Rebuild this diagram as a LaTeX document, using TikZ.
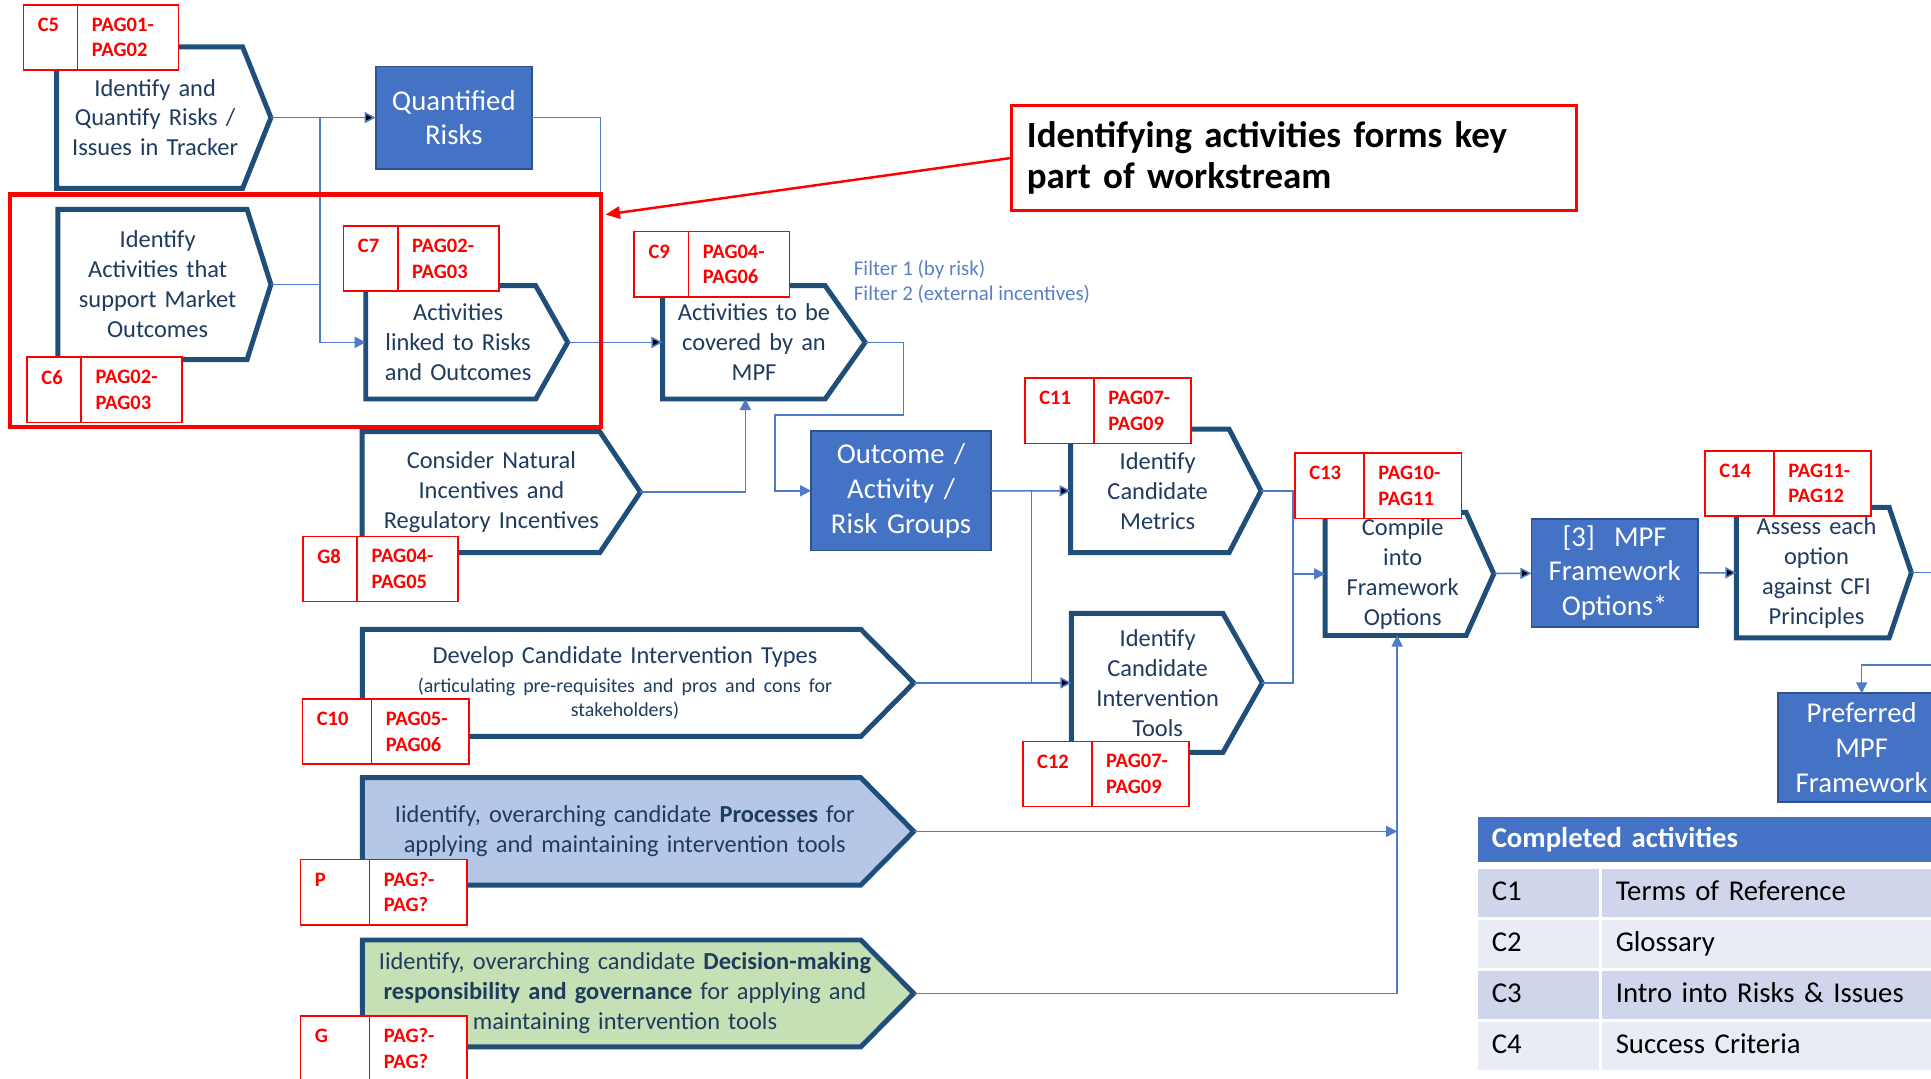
\documentclass[tikz,border=0pt]{standalone}
\usepackage{fontspec}
\setmainfont{Carlito}
\usepackage{xcolor}
\usepackage{tikz}
\usetikzlibrary{positioning,%
  fit,%
  calc,%
  arrows.meta,%
  backgrounds%
}

\definecolor{chevblue}{HTML}{1F4E79}
\definecolor{chevtext}{HTML}{1F3B5E}
\definecolor{boxblue}{HTML}{4472C4}
\definecolor{boxedge}{HTML}{2F528F}
\definecolor{linkblue}{HTML}{4F7AC7}
\definecolor{filterblue}{HTML}{5A7FC6}
\definecolor{tagred}{HTML}{FF0000}
\definecolor{procfill}{HTML}{B4C7E7}
\definecolor{govfill}{HTML}{C5E0B4}
\definecolor{rowdark}{HTML}{CFD5EA}
\definecolor{rowlight}{HTML}{E9EBF5}

\begin{document}
\begin{tikzpicture}
                    [x=0.6pt, y=-0.6pt,
                    boxsize/.style 2 args={minimum width=#1*0.6pt,
                        minimum height=#2*0.6pt},
                    chev/.style 2 args={inner sep=0pt, outer sep=0pt,
                        align=center, text=chevtext, text width=#1,
                        execute at begin node={\advance\rightskip by #2},
                        font=\fontsize{11.9}{14.6}\selectfont},
                    chevline/.style={draw=chevblue, line width=2.4pt,
                        line join=miter},
                    bluebox/.style={inner sep=0pt, outer sep=0pt,
                        align=center, text width=70pt, fill=boxblue,
                        draw=boxedge, line width=.9pt, text=white,
                        font=\fontsize{14}{17}\selectfont},
                    tagid/.style={draw=tagred, fill=white, line width=.8pt,
                        text=tagred, font=\bfseries\fontsize{10}{12.4}\selectfont,
                        align=left, text width=#1, inner xsep=7pt,
                        inner ysep=0pt, outer sep=0pt,
                        minimum height=31.8pt, anchor=north west},
                    tagpg/.style={tagid=#1, anchor=west},
                    flow/.style={draw=linkblue, line width=.75pt},
                    hilite/.style={draw=tagred, line width=2.1pt,
                        inner sep=0pt},
                    keynote/.style={draw=tagred, fill=white, line width=1.4pt,
                        align=left, text width=260pt, inner xsep=7.6pt,
                        minimum height=51.3pt, anchor=north west,
                        font=\bfseries\fontsize{18}{20.2}\selectfont},
                    filtertext/.style={align=left, inner sep=0pt,
                        text=filterblue, font=\fontsize{10.2}{12}\selectfont},
                    tabhead/.style={fill=boxblue, text=white, align=left,
                        text width=226.8pt, inner xsep=6.6pt,
                        minimum height=22.2pt, anchor=north west,
                        font=\bfseries\fontsize{14}{17}\selectfont},
                    keycell/.style={align=left, text width=#1,
                        inner xsep=6.6pt, minimum height=23.2pt,
                        text height=9.6pt, text depth=2.6pt,
                        font=\fontsize{14}{17}\selectfont},
                    >={Triangle[length=5.4pt, width=5.4pt]}]

                    \useasboundingbox (0,0) rectangle (1568,876);

                    % steps
                    \node[chev={92pt}{8.4pt}, boxsize={174}{115}] (qa) at (133,95.5)
                        {Identify and\\Quantify Risks /\\Issues in Tracker};
                    \node[chev={92pt}{6.6pt}, boxsize={173}{122}] (ia) at (133.5,231)
                        {Identify\\Activities that\\support Market\\Outcomes};
                    \node[chev={90pt}{8.4pt}, boxsize={164}{92}] (al) at (379,278)
                        {Activities\\linked to Risks\\and Outcomes};
                    \node[chev={90pt}{9.6pt}, boxsize={164.5}{92}] (ad) at (620.25,278)
                        {Activities to be\\covered by an\\MPF};
                    \node[chev={128pt}{9.6pt}, boxsize={226}{98.3}] (ni) at (407,399.65)
                        {Consider Natural\\Incentives and\\Regulatory Incentives};
                    \node[chev={85pt}{8pt}, boxsize={154.6}{100.4}] (cm) at (946.7,398.6)
                        {Identify\\Candidate\\Metrics};
                    \node[chev={85pt}{9pt}, boxsize={155}{113}] (it) at (947.5,554.5)
                        {Identify\\Candidate\\Intervention\\Tools};
                    \node[chev={76pt}{6.6pt}, boxsize={137}{100}] (co) at (1144.5,466)
                        {Compile\\into\\Framework\\Options};
                    \node[chev={80pt}{7.2pt}, boxsize={142}{106}] (ae) at (1481,465)
                        {Assess each\\option\\against CFI\\Principles};
                    \node[chev={262pt}{12.8pt}, boxsize={447.7}{87}] (dt) at (518.15,554.5)
                        {Develop Candidate Intervention Types\\[-0.6pt]{\fontsize{9.7}{12}\selectfont(articulating pre-requisites and pros and cons for}\\[-2.6pt]{\fontsize{9.7}{12}\selectfont stakeholders)}};
                    \node[chev={262pt}{13pt}, boxsize={447.7}{87.2}] (pr) at (518.15,675.1)
                        {Iidentify, overarching candidate \textbf{Processes} for\\applying and maintaining intervention tools};
                    \node[chev={262pt}{12.8pt}, boxsize={447.7}{86.7}] (gv) at (518.15,806.65)
                        {Iidentify, overarching candidate \textbf{Decision-making}\\\textbf{responsibility and governance} for applying and\\maintaining intervention tools};

                    % results
                    \node[bluebox, boxsize={127}{83}] (qr) at (368.5,95.5)
                        {Quantified\\Risks};
                    \node[bluebox, boxsize={146.1}{97}] (og) at (731.65,398.5)
                        {Outcome /\\Activity /\\Risk Groups};
                    \node[bluebox, boxsize={135}{87.4}] (mo) at (1311.1,465.2)
                        {[3]\ \ MPF\\Framework\\Options*};
                    \node[bluebox, boxsize={135.4}{88}] (pf) at (1511.7,607)
                        {Preferred\\MPF\\Framework};

                    \begin{scope}[on background layer]
                    \foreach \n/\d/\f in {qa/23/white, ia/19.4/white,
                        al/26/white, ad/32.5/white, ni/33/white,
                        cm/26/white, it/32/white, co/22.5/white,
                        ae/18/white, dt/43/white, pr/43/procfill,
                        gv/43/govfill}
                        \draw[chevline, fill=\f] (\n.north west)
                            -- ($(\n.north east)+(-\d,0)$) -- (\n.east)
                            -- ($(\n.south east)+(-\d,0)$) -- (\n.south west)
                            -- cycle;
                    \end{scope}

                    \node[filtertext, anchor=west] (fl) at (693,228.6)
                        {Filter 1 (by risk)\\Filter 2 (external incentives)};

                    % connectors
                    \path[flow,->]
                        (qa) edge (qr)
                        (al) edge (ad)
                        (og) edge (cm)
                        (dt) edge (it)
                        (co) edge (mo)
                        (mo) edge (ae);
                    \coordinate (qdrop) at (487.5,278);
                    \coordinate (mdrop) at ($(og.east)+(33,0)$);
                    \coordinate (cfeed) at ($(co.south)+(-10,0)$);
                    \draw[flow,->] (qa.east) -- ++(40,0) |- (al.west);
                    \draw[flow] (ia.east) -- ++(40,0);
                    \draw[flow] (qr.east) -| (qdrop);
                    \draw[flow,->] (ad.east) -- ++(31,0) -- ++(0,59)
                        -- ++(-104,0) |- (og.west);
                    \draw[flow,->] (ni.east) -| ($(ad.south)+(-15,0)$);
                    \draw[flow] (mdrop) -- (mdrop |- it.west);
                    \draw[flow] (cm.east) -- ++(26,0) |- (it.east);
                    \draw[flow,->] ($(cm.east)+(26,0)$) |- (co.west);
                    \draw[flow,->] (pr.east) -- (pr.east -| cfeed);
                    \draw[flow,->] (gv.east) -| (cfeed);
                    \draw[flow] (ae.east) -- ++(30,0);
                    \draw[flow,->] ($(pf.north)+(70,-23)$) -| (pf.north);

                    % reference tags
                    \node[tagid=12.4pt] (c5id) at (19,4) {C5\\~};
                    \node[tagpg=35.2pt, right=0pt of c5id] (c5pag) {PAG01-\\PAG02};
                    \node[tagid=12.4pt] (c6id) at (22,290) {C6\\~};
                    \node[tagpg=35.2pt, right=0pt of c6id] (c6pag) {PAG02-\\PAG03};
                    \node[tagid=12.4pt] (c7id) at (279,183.5) {C7\\~};
                    \node[tagpg=35.2pt, right=0pt of c7id] (c7pag) {PAG02-\\PAG03};
                    \node[tagid=12.4pt] (c9id) at (515,188) {C9\\~};
                    \node[tagpg=35.2pt, right=0pt of c9id] (c9pag) {PAG04-\\PAG06};
                    \node[tagid=12.4pt] (g8id) at (246,435.5) {G8\\~};
                    \node[tagpg=35.2pt, right=0pt of g8id] (g8pag) {PAG04-\\PAG05};
                    \node[tagid=19.6pt] (c10id) at (245.6,567.6) {C10\\~};
                    \node[tagpg=33.4pt, right=0pt of c10id] (c10pag) {PAG05-\\PAG06};
                    \node[tagid=19.6pt] (c11id) at (832.3,307) {C11\\~};
                    \node[tagpg=33.4pt, right=0pt of c11id] (c11pag) {PAG07-\\PAG09};
                    \node[tagid=19.6pt] (c12id) at (830.5,602) {C12\\~};
                    \node[tagpg=33.4pt, right=0pt of c12id] (c12pag) {PAG07-\\PAG09};
                    \node[tagid=19.6pt] (c13id) at (1051.6,368) {C13\\~};
                    \node[tagpg=33.4pt, right=0pt of c13id] (c13pag) {PAG10-\\PAG11};
                    \node[tagid=19.6pt] (c14id) at (1384.5,366) {C14\\~};
                    \node[tagpg=33.4pt, right=0pt of c14id] (c14pag) {PAG11-\\PAG12};
                    \node[tagid=19.6pt] (pid) at (244,698) {P\\~};
                    \node[tagpg=33.4pt, right=0pt of pid] (ppag) {PAG?-\\PAG?};
                    \node[tagid=19.6pt] (gid) at (244,825) {G\\~};
                    \node[tagpg=33.4pt, right=0pt of gid] (gpag) {PAG?-\\PAG?};

                    % highlight and note
                    \node[hilite, fit={(8,158) (488,347)}] (hb) {};
                    \node[keynote] (kp) at (820,84.5)
                        {Identifying activities forms key\\part of workstream};
                    \draw[draw=tagred, line width=1.2pt,
                        -{Triangle[length=7pt, width=6pt]}]
                        (kp.west) -- ($(hb.north east)+(2,18)$);

                    % completed activities
                    \node[tabhead] (hd) at (1200,663) {Completed activities};
                    \node[keycell=45.6pt, fill=rowdark,
                        below=3pt of hd.south west, anchor=north west] (r1) {C1};
                    \node[keycell=154.8pt, fill=rowdark, right=1.2pt of r1]
                        (r1t) {Terms of Reference};
                    \node[keycell=45.6pt, fill=rowlight, below=1.2pt of r1] (r2) {C2};
                    \node[keycell=154.8pt, fill=rowlight, right=1.2pt of r2]
                        (r2t) {Glossary};
                    \node[keycell=45.6pt, fill=rowdark, below=1.2pt of r2] (r3) {C3};
                    \node[keycell=154.8pt, fill=rowdark, right=1.2pt of r3]
                        (r3t) {Intro into Risks \& Issues};
                    \node[keycell=45.6pt, fill=rowlight, below=1.2pt of r3] (r4) {C4};
                    \node[keycell=154.8pt, fill=rowlight, right=1.2pt of r4]
                        (r4t) {Success Criteria};
                \end{tikzpicture}
\end{document}
